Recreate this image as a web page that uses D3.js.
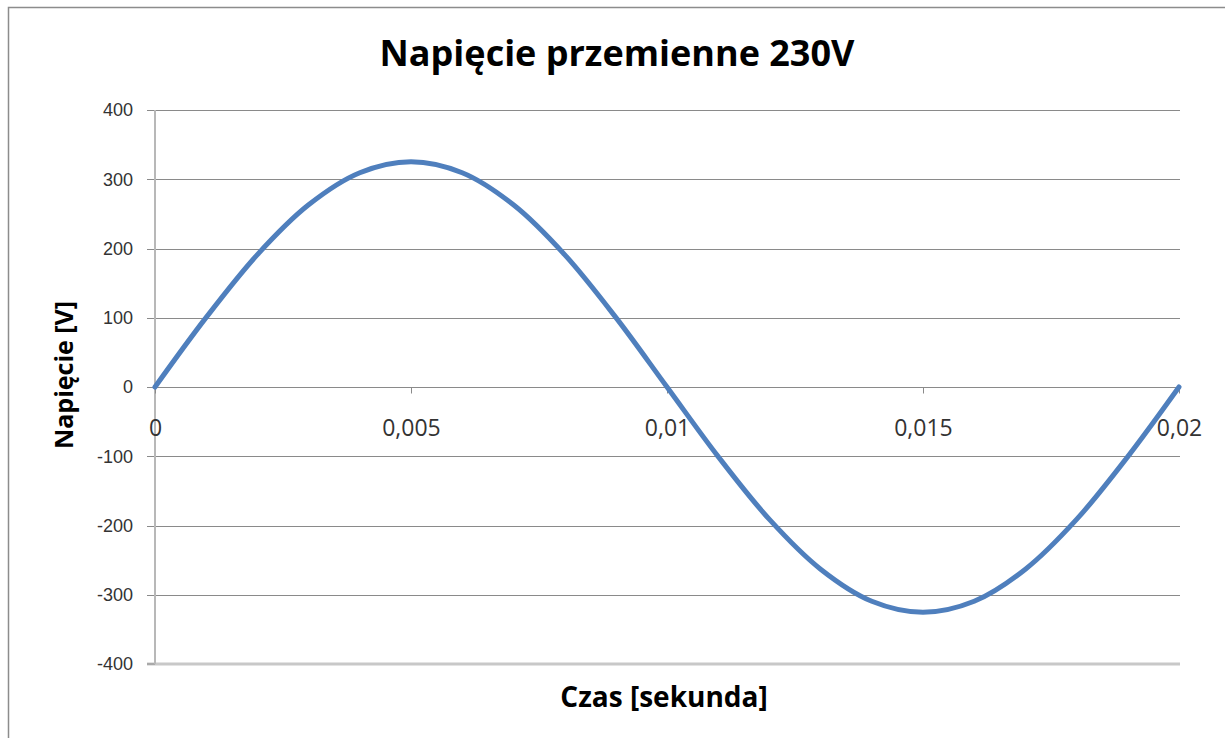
<!DOCTYPE html>
<html><head><meta charset="utf-8">
<script src="https://cdn.jsdelivr.net/npm/d3@7"></script>
<style>body{margin:0;background:#fff}svg{display:block}</style>
</head><body>
<script>
const title = "Napięcie przemienne 230V";
const xTitle = "Czas [sekunda]";
const yTitle = "Napięcie [V]";
const xTicks = [0, 0.005, 0.01, 0.015, 0.02];
const xTickLabels = ["0", "0,005", "0,01", "0,015", "0,02"];
const yTicks = [-400, -300, -200, -100, 0, 100, 200, 300, 400];
// samples (time in s, voltage in V)
const times = [0, 0.001, 0.002, 0.003, 0.004, 0.005, 0.006, 0.007, 0.008, 0.009, 0.01,
               0.011, 0.012, 0.013, 0.014, 0.015, 0.016, 0.017, 0.018, 0.019, 0.02];
const volts = [0, 100.5, 191.2, 263.1, 309.4, 325.3, 309.4, 263.1, 191.2, 100.5, 0,
               -100.5, -191.2, -263.1, -309.4, -325.3, -309.4, -263.1, -191.2, -100.5, 0];

const W = 1225, H = 738;
const svg = d3.select("body").append("svg").attr("width", W).attr("height", H);
svg.append("rect").attr("width", W).attr("height", H).attr("fill", "#fff");
// chart border (left and top visible)
svg.append("path").attr("d", `M8.5,${H}V7.5H${W}`).attr("fill", "none").attr("stroke", "#8c8c8c").attr("stroke-width", 1.5);

const x = d3.scaleLinear().domain([0, 0.02]).range([155, 1179]);
const y = d3.scaleLinear().domain([-400, 400]).range([664, 110]);

// gridlines
const g = svg.append("g");
g.selectAll("line.grid").data(yTicks.filter(v => v !== -400)).join("line")
  .attr("x1", 147).attr("x2", x(0.02) + 1)
  .attr("y1", d => Math.round(y(d)) + 0.5).attr("y2", d => Math.round(y(d)) + 0.5)
  .attr("stroke", "#8a8a8a").attr("stroke-width", 1);
// bottom border line
g.append("line").attr("x1", 147).attr("x2", x(0.02) + 1).attr("y1", y(-400)).attr("y2", y(-400))
  .attr("stroke", "#c8c8c8").attr("stroke-width", 3);
g.append("line").attr("x1", 147).attr("x2", 155).attr("y1", y(-400)).attr("y2", y(-400))
  .attr("stroke", "#8a8a8a").attr("stroke-width", 1);
// y axis line
g.append("line").attr("x1", 155).attr("x2", 155).attr("y1", y(400)).attr("y2", y(-400))
  .attr("stroke", "#b8b8b8").attr("stroke-width", 2);

// y tick labels
svg.append("g").selectAll("text").data(yTicks).join("text")
  .attr("x", 133).attr("y", d => y(d)).attr("dy", "0.36em")
  .attr("text-anchor", "end").attr("font-family", "Liberation Sans, Arial, sans-serif")
  .attr("font-size", 18).attr("fill", "#333").text(d => d);

// x axis at zero via d3 axis
const xAxis = d3.axisBottom(x).tickValues(xTicks).tickSize(6).tickFormat((d, i) => xTickLabels[i]);
const xa = svg.append("g").attr("transform", `translate(0,${Math.round(y(0)) + 0.5})`).call(xAxis);
xa.select(".domain").remove();
xa.selectAll(".tick line").attr("stroke", "#8a8a8a");
xa.selectAll(".tick text").attr("font-family", "Open Sans, sans-serif").attr("font-size", 23)
  .attr("fill", "#333").attr("y", 48).attr("dy", null);

// curve
const pts = times.map((t, i) => [t, volts[i]]);
svg.append("path").datum(pts)
  .attr("d", d3.line().x(d => x(d[0])).y(d => y(d[1])).curve(d3.curveCatmullRom))
  .attr("fill", "none").attr("stroke", "#4f7fbd").attr("stroke-width", 5).attr("stroke-linecap", "round");

// titles
svg.append("text").attr("x", 617).attr("y", 66).attr("text-anchor", "middle")
  .attr("font-family", "Open Sans, sans-serif").attr("font-weight", "bold").attr("font-size", 36)
  .attr("fill", "#000").text(title);
svg.append("text").attr("x", 664).attr("y", 707).attr("text-anchor", "middle")
  .attr("font-family", "Open Sans, sans-serif").attr("font-weight", "bold").attr("font-size", 28)
  .attr("fill", "#000").text(xTitle);
svg.append("text").attr("transform", "translate(73,375) rotate(-90)").attr("text-anchor", "middle")
  .attr("font-family", "Open Sans, sans-serif").attr("font-weight", "bold").attr("font-size", 25)
  .attr("fill", "#000").text(yTitle);
</script>
</body></html>
